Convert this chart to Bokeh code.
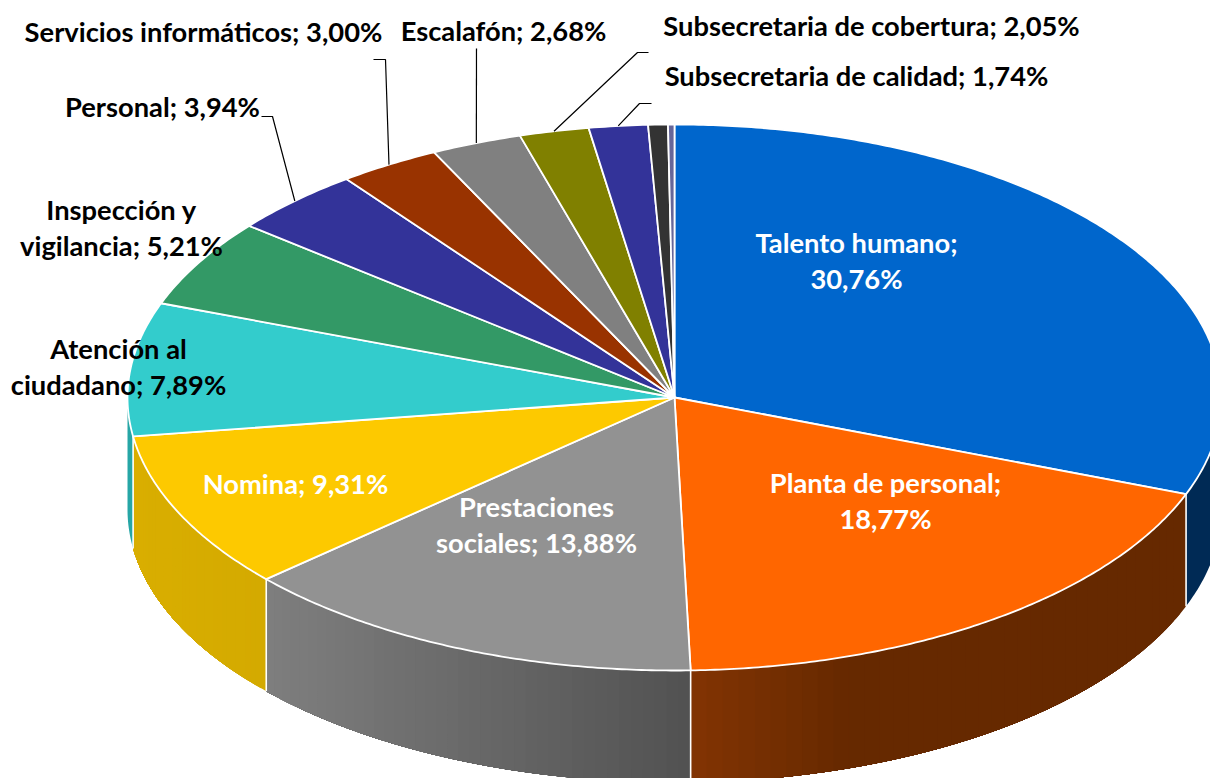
import numpy as np
from bokeh.plotting import figure
from bokeh.models import Range1d
from bokeh.core.properties import value
from bokeh.embed import file_html
from bokeh.resources import INLINE

categories = ["Talento humano", "Planta de personal", "Prestaciones sociales", "Nomina",
              "Atención al ciudadano", "Inspección y vigilancia", "Personal",
              "Servicios informáticos", "Escalafón", "Subsecretaria de cobertura",
              "Subsecretaria de calidad", "Otros 1", "Otros 2"]
shares = [30.76, 18.77, 13.88, 9.31, 7.89, 5.21, 3.94, 3.00, 2.68, 2.05, 1.74, 0.58, 0.19]
labelled = 11

# --- styling and layout (page pixel coordinates) ---
top_colors = ["#0066cc", "#ff6600", "#929292", "#fdc900", "#33cccc", "#339966", "#333399",
              "#993300", "#808080", "#808000", "#333399", "#333333", "#666699"]
wall_left = {0: "#002a55", 1: "#843403", 2: "#7f7f7f", 3: "#d9ae00", 4: "#26a6a6"}
wall_right = {0: "#002a55", 1: "#662900", 2: "#525252", 3: "#d4aa00", 4: "#26a6a6"}
CX, CY, RX, RY, DEPTH = 674, 397, 547, 273, 112
FONT = value("Lato")
FS = "27.3px"

label_lines = {
    0: (["Talento humano;", "{v}"], 856, [242, 278], "white"),
    1: (["Planta de personal;", "{v}"], 885, [482, 518], "white"),
    2: (["Prestaciones", "sociales; {v}"], 536, [505.5, 541.5], "white"),
    3: (["Nomina; {v}"], 295, [483], "white"),
    4: (["Atención al", "ciudadano; {v}"], 118, [348, 384], "black"),
    5: (["Inspección y", "vigilancia; {v}"], 121, [209, 245], "black"),
    6: (["Personal; {v}"], 162, [106], "black"),
    7: (["Servicios informáticos; {v}"], 203, [31], "black"),
    8: (["Escalafón; {v}"], 503, [30], "black"),
    9: (["Subsecretaria de cobertura; {v}"], 871, [25], "black"),
    10: (["Subsecretaria de calidad; {v}"], 856, [75], "black"),
}
leader_knee = {
    6: [(272, 116), (261, 116)],
    7: [(385, 59), (373, 59)],
    8: [(476, 48)],
    9: [(637, 52), (648, 52)],
    10: [(639, 103), (651, 103)],
}

def hexrgb(h):
    return np.array([int(h[i:i + 2], 16) for i in (1, 3, 5)], float)

def ell(theta):
    """theta in degrees clockwise from the top, parametric on the ellipse."""
    t = np.radians(theta)
    return CX + RX * np.sin(t), CY - RY * np.cos(t)

vals = np.array(shares)
edges = np.concatenate([[0], np.cumsum(vals)]) * 360 / vals.sum()

p = figure(width=1210, height=778, output_backend="svg", toolbar_location=None,
           x_range=Range1d(0, 1210), y_range=Range1d(778, 0), min_border=0,
           background_fill_color="white")
p.axis.visible = False
p.grid.visible = False
p.outline_line_color = None

# walls: a left-to-right gradient painted as nested shapes, so no seams show
for i in range(len(vals)):
    a0, a1 = max(edges[i], 90), min(edges[i + 1], 270)
    if a1 <= a0:
        continue
    steps = 40 if wall_left[i] != wall_right[i] else 1
    th = np.linspace(a0, a1, steps + 1)
    x_hi, x_lo = ell(a0)[0], ell(a1)[0]
    for j in range(steps):
        seg = np.linspace(th[j], a1, max(int(a1 - th[j]) * 2, 3))
        x, y = ell(seg)
        f = (x_hi - ell(th[j])[0]) / max(x_hi - x_lo, 1)
        # clockwise walls run right to left, so f=1 is the left colour
        if i == 1:
            f = max(1 - (1 - f) * 3.0, 0.0)
        c = hexrgb(wall_right[i]) * (1 - f) + hexrgb(wall_left[i]) * f
        col = "#%02x%02x%02x" % tuple(int(round(v)) for v in c)
        p.patch(list(x) + list(x[::-1]), list(y) + list((y + DEPTH)[::-1]),
                fill_color=col, line_color=None)

# white verticals where walls meet
for e in edges[1:]:
    if 90 < e < 270:
        x, y = ell(e)
        p.line([x, x], [y, y + DEPTH], line_color="white", line_width=1.6)

# top face
for i in range(len(vals)):
    th = np.linspace(edges[i], edges[i + 1], max(int(edges[i + 1] - edges[i]) * 2, 4))
    x, y = ell(th)
    p.patch([CX] + list(x), [CY] + list(y), fill_color=top_colors[i],
            line_color="white", line_width=1.8, line_join="round")

# leaders
for i, knee in leader_knee.items():
    x0, y0 = ell((edges[i] + edges[i + 1]) / 2)
    p.line([x0] + [k[0] for k in knee], [y0] + [k[1] for k in knee],
           line_color="black", line_width=1.2)

# labels
for i in range(labelled):
    lines, lx, lys, col = label_lines[i]
    txt = f"{shares[i]:.2f}%".replace(".", ",")
    for line, ly in zip(lines, lys):
        p.text([lx], [ly], text=[line.format(v=txt)], text_font=FONT, text_font_style="bold",
               text_font_size=FS, text_color=col, text_align="center", text_baseline="middle")

open("out.html", "w").write(file_html(p, INLINE))
